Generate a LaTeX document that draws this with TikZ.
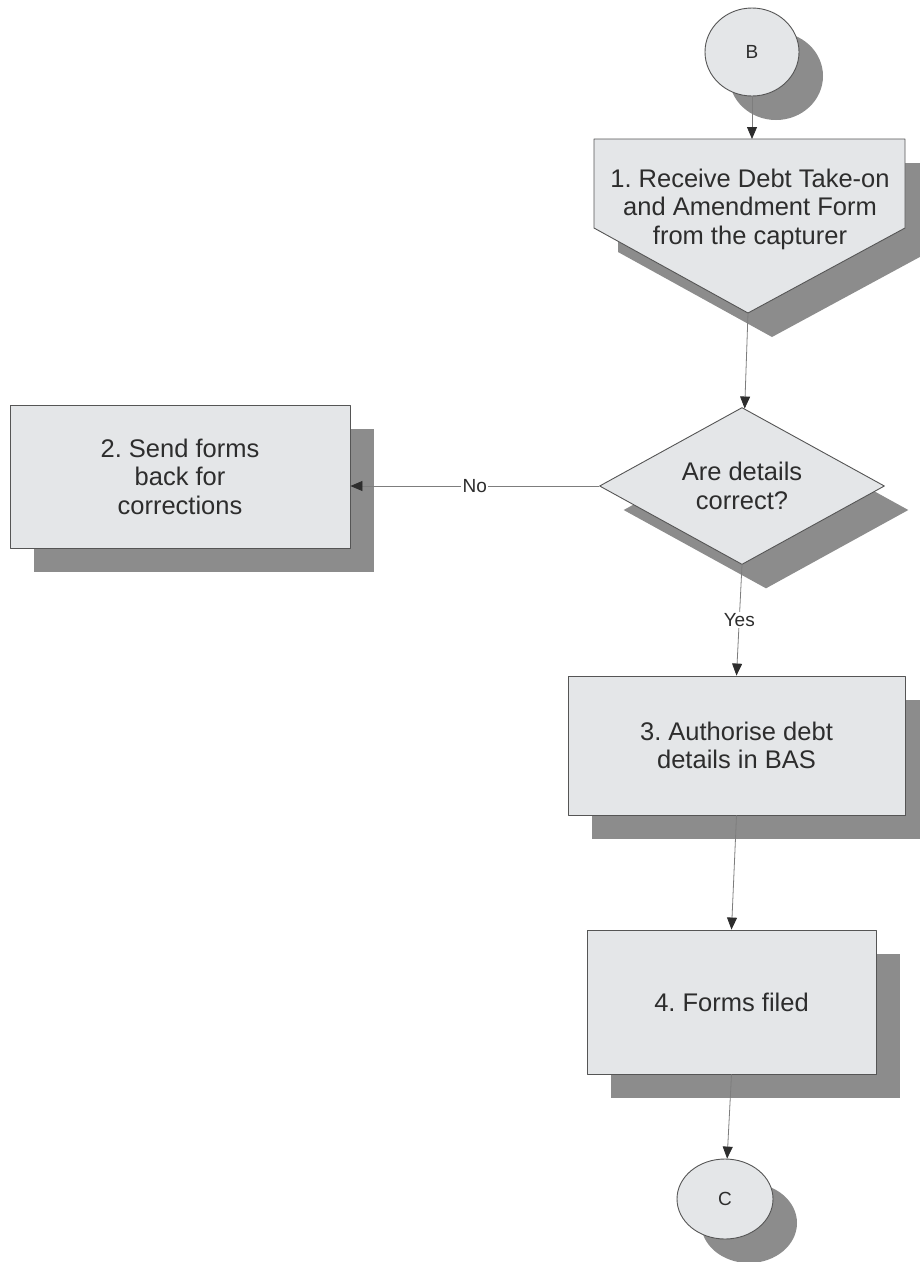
\documentclass[tikz,border=0pt]{standalone}
\usepackage{fontspec}
\setmainfont{Liberation Sans}
\usetikzlibrary{arrows.meta,shapes.geometric,shadows}
\frenchspacing

\definecolor{boxfill}{RGB}{228,230,232}
\definecolor{shadowgray}{RGB}{140,140,140}
\definecolor{edgegray}{RGB}{85,85,85}
\definecolor{textgray}{RGB}{45,45,45}
\definecolor{linegray}{RGB}{125,125,125}

\begin{document}
\begin{tikzpicture}[
    x=1pt, y=-1pt,          % one unit = one pixel of the page, y down
    line join=round,
    >={Triangle[length=12pt,width=10pt,color=textgray]},   % arrow tip style
    shade box/.style={fill=boxfill, draw=edgegray, line width=0.9pt,
        drop shadow={shadow xshift=24pt, shadow yshift=-24pt,
                     fill=shadowgray, opacity=1}},
    procbox/.style={shade box, rectangle, inner sep=0pt, align=center,
        text=textgray, font=\fontsize{25.5}{28.5}\selectfont},
    decision/.style={shade box, diamond, aspect=1.8, inner sep=0pt,
        align=center, text=textgray, font=\fontsize{25.5}{28.5}\selectfont},
    pageref/.style={shade box, ellipse, inner sep=0pt,
        text=textgray, font=\fontsize{19}{22}\selectfont},
    flow/.style={->, draw=linegray, line width=0.8pt},
    answer/.style={fill=white, inner sep=1.5pt, text=textgray,
        font=\fontsize{19}{22}\selectfont}
]
\useasboundingbox (0,0) rectangle (920,1262);

%-----------------------
% 1) ENTRY CONNECTOR B
%-----------------------
\node[pageref, minimum width=94pt, minimum height=88pt] (B) at (752,52) {B};

%-----------------------
% 2) STEP 1 (OFF-PAGE SHAPE)
%-----------------------
\coordinate (recv top) at (752,139);
\coordinate (recv tip) at (748,313);
\path[shade box] (594,139) -- (905,139) -- (905,228) -- (recv tip)
    -- (594,228) -- cycle;
\node[align=center, text=textgray, font=\fontsize{25.5}{28.5}\selectfont]
    (recv) at (750,209) {1. Receive Debt Take-on\\and Amendment Form\\from the capturer};

%-----------------------
% 3) DECISION AND RETURN BOX
%-----------------------
\node[decision, minimum width=285pt, minimum height=157pt]
    (check) at (742,486) {Are details\\correct?};
\node[procbox, minimum width=340pt, minimum height=143pt]
    (send) at (180,476.5) {2. Send forms\\back for\\corrections};

%-----------------------
% 4) STEPS 3 AND 4
%-----------------------
\node[procbox, minimum width=337pt, minimum height=139pt]
    (auth) at (736.5,745.5) {3. Authorise debt\\details in BAS};
\node[procbox, minimum width=289pt, minimum height=144pt]
    (filed) at (731.5,1002) {4. Forms filed};

%-----------------------
% 5) EXIT CONNECTOR C
%-----------------------
\node[pageref, minimum width=96pt, minimum height=80pt] (C) at (725,1199) {C};

%-----------------------
% 6) CONNECTORS
%-----------------------
\draw[flow] (B) -- (recv top);
\draw[flow] (recv tip) -- (check);
\draw[flow] (check.west) -- node[answer] {No} (check.west -| send.east);
\draw[flow] (check.south) -- node[answer] {Yes} (auth.north);
\draw[flow] (auth.south) -- (filed.north);
\draw[flow] (filed.south) -- (C);

\end{tikzpicture}
\end{document}
